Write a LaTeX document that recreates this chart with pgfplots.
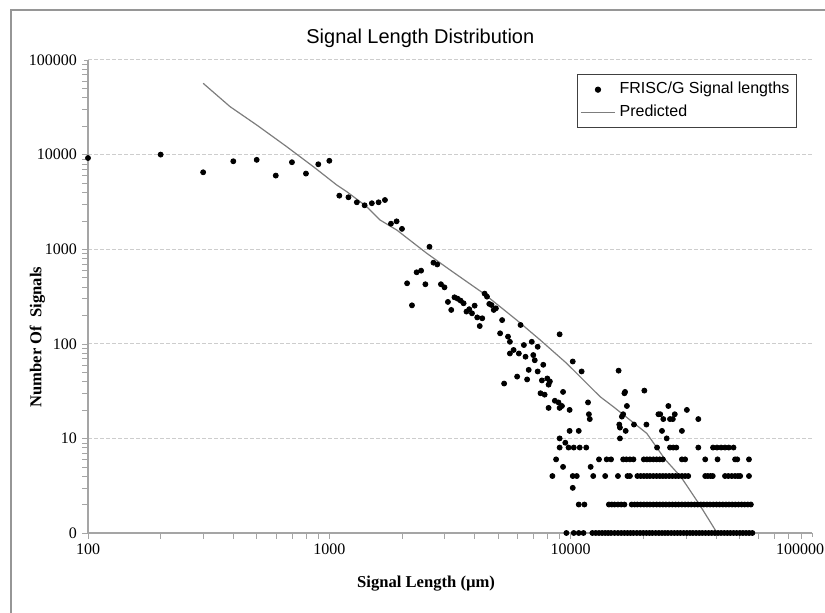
\documentclass[border=0pt]{standalone}
\usepackage{fontspec}
\setmainfont{Liberation Serif}
\newfontfamily\arial{Liberation Sans}
\usepackage{pgfplots}
\usepackage{pgfplotstable}
\pgfplotsset{compat=1.18}
\pgfplotsset{every axis title shift=0pt}
\definecolor{gridgray}{RGB}{205,205,205}
\definecolor{axgray}{RGB}{165,165,165}
\definecolor{predgray}{RGB}{125,125,125}
\definecolor{framegray}{RGB}{150,150,150}

% measured signal lengths (um) and counts; zero counts drawn on the "0" line (y=1)
\pgfplotstableread[row sep=\\]{
x y\\
100 9200\\ 200 10000\\ 300 6500\\ 400 8500\\ 500 8800\\ 600 6000\\ 700 8300\\ 800 6300\\ 900 7900\\ 1000 8600\\
1100 3680\\ 1200 3540\\ 1300 3130\\ 1400 2910\\ 1500 3060\\ 1600 3130\\ 1700 3310\\ 1800 1860\\ 1900 1970\\ 2000 1640\\
2100 436\\ 2200 255\\ 2300 570\\ 2400 593\\ 2500 426\\ 2600 1060\\ 2700 720\\ 2800 690\\ 2900 426\\ 3000 395\\
3100 277\\ 3200 228\\ 3300 310\\ 3400 300\\ 3500 286\\ 3600 268\\ 3700 219\\ 3800 232\\ 3900 210\\ 4000 253\\
4100 190\\ 4200 154\\ 4300 186\\ 4400 339\\ 4500 315\\ 4600 264\\ 4700 257\\ 4800 228\\ 4900 237\\ 5100 129\\
5200 178\\ 5300 38\\ 5500 119\\ 5600 105\\ 5600 79\\ 5800 86\\ 6000 45\\ 6100 79\\ 6200 158\\ 6400 97\\
6500 73\\ 6600 42\\ 6700 53\\ 6900 105\\ 7000 76\\ 7100 67\\ 7300 93\\ 7300 51\\ 7500 30\\ 7600 41\\
7700 60\\ 7800 29\\ 8000 43\\ 8100 37\\ 8100 21\\ 8200 40\\ 8600 25\\ 8900 24\\
9000 126\\ 9000 21\\ 9000 10\\ 9200 22\\ 9300 31\\ 9300 5\\ 9500 9\\ 9900 20\\ 9900 12\\ 10200 65\\
10200 3\\ 10800 12\\ 11100 51\\ 11800 24\\ 11900 18\\ 12000 16\\ 12100 5\\
15800 52\\ 15900 14\\ 16000 10\\ 16000 13\\ 16300 17\\ 16500 18\\ 16700 30\\ 16800 31\\ 16900 12\\ 17100 22\\
18300 14\\ 20200 32\\ 20600 14\\ 23100 18\\ 23500 18\\ 23900 12\\ 24200 16\\ 25000 10\\ 25400 22\\ 25800 16\\
26500 16\\ 27000 18\\ 28900 12\\ 30300 20\\ 33800 16\\
9000 8\\ 9800 8\\ 10300 8\\ 10900 8\\ 11600 8\\ 22800 8\\ 25800 8\\ 26600 8\\ 27400 8\\ 33800 8\\
38900 8\\ 40400 8\\ 42000 8\\ 43600 8\\ 45200 8\\ 47300 8\\
8700 6\\ 13100 6\\ 14100 6\\ 14700 6\\ 16500 6\\ 17000 6\\ 17600 6\\ 18200 6\\ 20100 6\\ 20700 6\\
21300 6\\ 22000 6\\ 22700 6\\ 23400 6\\ 24100 6\\ 28900 6\\ 29800 6\\ 36100 6\\ 40600 6\\ 48000 6\\
49000 6\\ 54800 6\\
8400 4\\ 10200 4\\ 10600 4\\ 12400 4\\ 13900 4\\ 15700 4\\ 17200 4\\ 17600 4\\ 18900 4\\ 19500 4\\
20100 4\\ 20700 4\\ 21300 4\\ 22000 4\\ 22700 4\\ 23400 4\\ 24100 4\\ 24800 4\\ 25600 4\\ 26400 4\\
27200 4\\ 28000 4\\ 28900 4\\ 29800 4\\ 30700 4\\ 36100 4\\ 37000 4\\ 38000 4\\ 38800 4\\ 43600 4\\
45000 4\\ 46500 4\\ 48000 4\\ 49300 4\\ 50400 4\\ 54800 4\\
10800 2\\ 11400 2\\ 14400 2\\ 14800 2\\ 15200 2\\ 15700 2\\ 16200 2\\ 16700 2\\ 17900 2\\ 18400 2\\
18900 2\\ 19500 2\\ 20100 2\\ 20700 2\\ 21300 2\\ 22000 2\\ 22700 2\\ 23400 2\\ 24100 2\\ 24800 2\\
25600 2\\ 26400 2\\ 27200 2\\ 28000 2\\ 28900 2\\ 29800 2\\ 30700 2\\ 31600 2\\ 32600 2\\ 33600 2\\
34600 2\\ 35600 2\\ 36700 2\\ 37800 2\\ 39000 2\\ 40200 2\\ 41400 2\\ 42700 2\\ 44000 2\\ 45300 2\\
46700 2\\ 48100 2\\ 49600 2\\ 51100 2\\ 52600 2\\ 54200 2\\ 55800 2\\
9600 1\\ 10300 1\\ 10800 1\\ 11300 1\\ 12300 1\\ 12700 1\\ 13100 1\\ 13500 1\\ 13900 1\\ 14300 1\\
14700 1\\ 15200 1\\ 15700 1\\ 16200 1\\ 16700 1\\ 17200 1\\ 17700 1\\ 18200 1\\ 18800 1\\ 19400 1\\
20000 1\\ 20600 1\\ 21200 1\\ 21800 1\\ 22500 1\\ 23200 1\\ 23900 1\\ 24600 1\\ 25300 1\\ 26100 1\\
26900 1\\ 27700 1\\ 28500 1\\ 29400 1\\ 30300 1\\ 31200 1\\ 32100 1\\ 33100 1\\ 34100 1\\ 35100 1\\
36200 1\\ 37300 1\\ 38400 1\\ 39600 1\\ 40800 1\\ 42000 1\\ 43300 1\\ 44600 1\\ 45900 1\\ 47300 1\\
48700 1\\ 50200 1\\ 51700 1\\ 53300 1\\ 54900 1\\ 56600 1\\
}\sigdata

\pgfplotstableread[row sep=\\]{
x y\\
300 56700\\ 388 32100\\ 500 20560\\ 666 12120\\ 859 7450\\ 1073 4770\\ 1181 4055\\ 1429 2813\\
1622 2036\\ 1902 1596\\ 2533 905\\ 3164 603\\ 4347 342\\ 5978 178\\ 7468 110\\ 9634 62\\
13240 27.6\\ 15030 21.6\\ 20670 11.3\\ 22740 8.0\\ 24610 6\\ 28680 3.9\\ 34380 1.95\\ 40430 1\\
}\preddata

\begin{document}
\begin{tikzpicture}
\useasboundingbox (0,0) rectangle (412.5pt,306.5pt);
\draw[framegray,line width=1pt] (5.5pt,0) -- (5.5pt,301.5pt) -- (412.5pt,301.5pt);
\begin{axis}[
  at={(44pt,40pt)}, anchor=south west,
  width=362pt, height=236.5pt, scale only axis,
  xmode=log, ymode=log,
  xmin=100, xmax=100000, ymin=1, ymax=100000,
  xtick={100,1000,10000,100000},
  xticklabels={100,1000,10000,\makebox[12pt][r]{100000}},
  ytick={1,10,100,1000,10000,100000}, yticklabels={0,10,100,1000,10000,100000},
  minor xtick={}, minor ytick={},
  axis x line*=bottom, axis y line*=left,
  axis line style={axgray,line width=0.6pt},
  tick style={axgray}, tick align=outside, major tick length=2pt,
  ymajorgrids,
  major grid style={gridgray,dash pattern=on 2pt off 1pt,line width=0.5pt},
  ticklabel style={font=\fontsize{8}{9.6}\selectfont},
  clip=false,
  title={Signal Length Distribution},
  title style={font=\arial\fontsize{10}{12}\selectfont,
    at={(axis description cs:0.459,1.0465)}, anchor=center},
  xlabel={Signal Length (µm)},
  xlabel style={font=\bfseries\fontsize{8.3}{10}\selectfont,
    at={(axis description cs:0.467,-0.108)}, anchor=center},
  ylabel={Number Of\ \ Signals},
  ylabel style={font=\bfseries\fontsize{8.3}{10}\selectfont,
    at={(axis description cs:-0.07,0.414)}, anchor=center},
  legend style={at={(axis description cs:0.675,0.970)}, anchor=north west,
    draw=black!75, line width=0.6pt, font=\arial\fontsize{8}{9.6}\selectfont,
    inner xsep=1.5pt, inner ysep=1.8pt, row sep=0pt, cells={anchor=west}},
]
\addplot[only marks, mark=*, mark size=1.25pt, black] table {\sigdata};
\addplot[predgray, line width=0.6pt, no marks] table {\preddata};
\legend{FRISC/G Signal lengths, Predicted}
\end{axis}
\end{tikzpicture}
\end{document}
